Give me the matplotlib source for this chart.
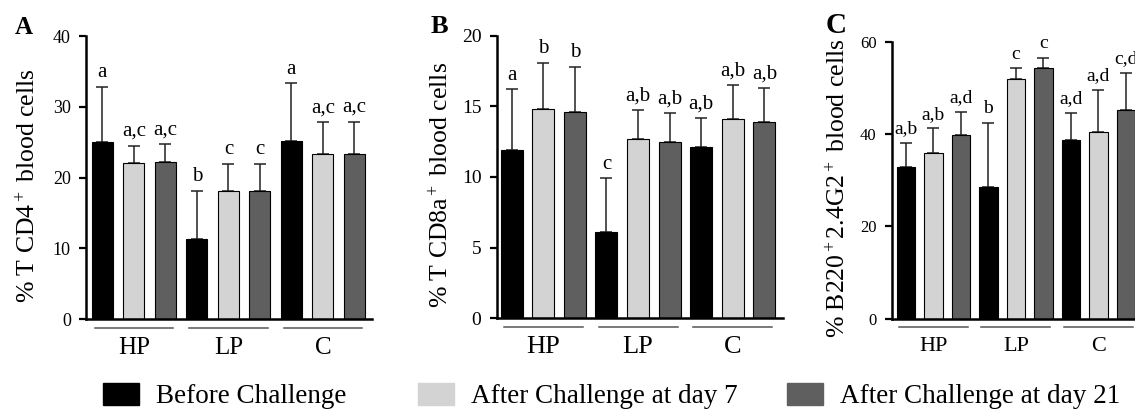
import numpy as np
import matplotlib
matplotlib.use("Agg")
import matplotlib.pyplot as plt
from matplotlib.patches import Patch

plt.rcParams["font.family"] = ["Liberation Serif", "DejaVu Serif"]
plt.rcParams["mathtext.fontset"] = "custom"
plt.rcParams["mathtext.rm"] = "Liberation Serif"
plt.rcParams["mathtext.it"] = "Liberation Serif:italic"
plt.rcParams["mathtext.bf"] = "Liberation Serif:bold"

groups = ["HP", "LP", "C"]
series = ["Before Challenge", "After Challenge at day 7", "After Challenge at day 21"]
colors = ["#000000", "#d3d3d3", "#5f5f5f"]

# panel A - % T CD4+ (per series, values for HP, LP, C)
cd4_before = [25.0, 11.3, 25.2]
cd4_day7 = [22.0, 18.1, 23.3]
cd4_day21 = [22.2, 18.1, 23.3]
cd4_before_err = [7.8, 6.8, 8.1]
cd4_day7_err = [2.5, 3.8, 4.5]
cd4_day21_err = [2.5, 3.8, 4.6]
cd4_before_sig = ["a", "b", "a"]
cd4_day7_sig = ["a,c", "c", "a,c"]
cd4_day21_sig = ["a,c", "c", "a,c"]

# panel B - % T CD8a+
cd8_before = [11.9, 6.1, 12.15]
cd8_day7 = [14.8, 12.7, 14.1]
cd8_day21 = [14.6, 12.5, 13.9]
cd8_before_err = [4.3, 3.8, 2.0]
cd8_day7_err = [3.3, 2.05, 2.4]
cd8_day21_err = [3.2, 2.0, 2.4]
cd8_before_sig = ["a", "c", "a,b"]
cd8_day7_sig = ["b", "a,b", "a,b"]
cd8_day21_sig = ["b", "a,b", "a,b"]

# panel C - % B220+ 2.4G2+
b220_before = [32.9, 28.4, 38.8]
b220_day7 = [35.9, 51.9, 40.4]
b220_day21 = [39.7, 54.3, 45.1]
b220_before_err = [5.2, 14.0, 5.8]
b220_day7_err = [5.3, 2.3, 9.1]
b220_day21_err = [5.1, 2.2, 8.1]
b220_before_sig = ["a,b", "b", "a,d"]
b220_day7_sig = ["a,b", "c", "a,d"]
b220_day21_sig = ["a,d", "c", "c,d"]

yticks_a = [0, 10, 20, 30, 40]
yticks_b = [0, 5, 10, 15, 20]
yticks_c = [0, 20, 40, 60]

fig = plt.figure(figsize=(11.35, 4.15), dpi=100)


def draw_panel(rect, xlim, means, errs, sigs, yticks, ylabel, letter,
               label_x, bar_w, tick_fs, sig_fs, grp_fs, letter_fs, letter_xy):
    ax = fig.add_axes(rect)
    for s in range(3):
        x = np.arange(3) * 3 + s
        ax.bar(x, means[s], width=bar_w, color=colors[s], edgecolor="black",
               linewidth=0.8, zorder=2)
        ax.errorbar(x, means[s], yerr=[np.zeros(3), errs[s]], fmt="none",
                    ecolor="#222222", elinewidth=1.1, capsize=4, capthick=1.1,
                    zorder=1)
        for xi, m, e, t in zip(x, means[s], errs[s], sigs[s]):
            ax.annotate(t, (xi, m + e), xytext=(0, 7), textcoords="offset points",
                        ha="center", va="baseline", fontsize=sig_fs)

    ax.set_xlim(*xlim)
    ax.set_ylim(yticks[0], yticks[-1])
    ax.set_yticks(yticks)
    ax.set_xticks(np.arange(3) * 3 + 1)
    ax.set_xticklabels(groups, fontsize=grp_fs)
    ax.tick_params(axis="x", length=0, pad=13)
    ax.tick_params(axis="y", length=5, width=1.6, labelsize=tick_fs, pad=6)
    ax.spines["top"].set_visible(False)
    ax.spines["right"].set_visible(False)
    ax.spines["left"].set_linewidth(1.8)
    ax.spines["bottom"].set_linewidth(1.8)

    # underline below each group
    for g in range(3):
        ax.plot([3 * g - 0.25, 3 * g + 2.25], [-0.032, -0.032], color="#555555",
                lw=1.1, transform=ax.get_xaxis_transform(), clip_on=False)

    ax.set_ylabel(ylabel, fontsize=18.5)
    ax.yaxis.set_label_coords(label_x, 0.47)
    fig.text(letter_xy[0], letter_xy[1], letter, fontsize=letter_fs,
             fontweight="bold", ha="left", va="baseline")
    return ax


draw_panel([0.0758, 0.2313, 0.2520, 0.6819], (-0.52, 8.56),
           [cd4_before, cd4_day7, cd4_day21],
           [cd4_before_err, cd4_day7_err, cd4_day21_err],
           [cd4_before_sig, cd4_day7_sig, cd4_day21_sig],
           yticks_a, "% T CD4$^+$ blood cells", "A", -0.16,
           0.67, 13, 15, 18, 18, (15 / 1135, 1 - 34 / 415))

draw_panel([0.4376, 0.2330, 0.2520, 0.6810], (-0.475, 8.58),
           [cd8_before, cd8_day7, cd8_day21],
           [cd8_before_err, cd8_day7_err, cd8_day21_err],
           [cd8_before_sig, cd8_day7_sig, cd8_day21_sig],
           yticks_b, "% T CD8a$^+$ blood cells", "B", -0.15,
           0.70, 14, 15, 19, 19, (431 / 1135, 1 - 33 / 415))

draw_panel([0.7859, 0.2325, 0.2181, 0.6670], (-0.505, 8.5),
           [b220_before, b220_day7, b220_day21],
           [b220_before_err, b220_day7_err, b220_day21_err],
           [b220_before_sig, b220_day7_sig, b220_day21_sig],
           yticks_c, "% B220$^+$2.4G2$^+$ blood cells", "C", -0.17,
           0.67, 12, 14, 16, 21, (826 / 1135, 1 - 33 / 415))

# legend, one entry per block
legend_x = [103 / 1135, 418 / 1135, 787 / 1135]
for c, name, lx in zip(colors, series, legend_x):
    fig.legend(handles=[Patch(facecolor=c, edgecolor=c)], labels=[name],
               loc="center left", bbox_to_anchor=(lx, 0.045), frameon=False,
               borderpad=0, borderaxespad=0, handlelength=1.33,
               handleheight=0.85, handletextpad=0.63, fontsize=19.5)

fig.savefig("out.png", dpi=100)
